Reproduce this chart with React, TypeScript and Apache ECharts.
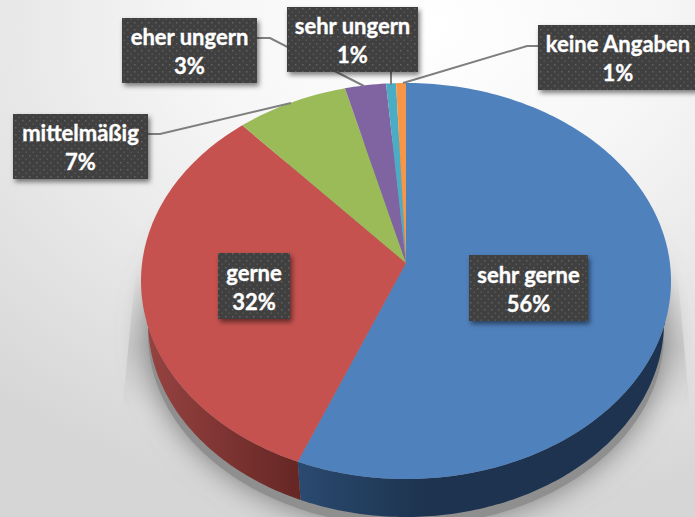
import React, { useEffect, useRef } from "react";
import * as echarts from "echarts";

const categories = ["sehr gerne", "gerne", "mittelmäßig", "eher ungern", "sehr ungern", "keine Angaben"];
const shares = [56.7, 32.7, 6.9, 2.5, 0.6, 0.6];
const percentLabels = ["56%", "32%", "7%", "3%", "1%", "1%"];

const topColors = ["#4f81bd", "#c5524f", "#9bbb59", "#8064a2", "#4bacc6", "#f79646"];
const sideColors: [string, string][] = [
  ["#1d334f", "#2a4a70"],
  ["#964341", "#652624"],
  ["#6f8a3c", "#6f8a3c"],
  ["#5b4775", "#5b4775"],
  ["#327d92", "#327d92"],
  ["#b86d2f", "#b86d2f"],
];

const boxes = [
  { x: 469, y: 255, w: 119, h: 66 },
  { x: 218, y: 253, w: 72, h: 66 },
  { x: 13, y: 114, w: 135, h: 65 },
  { x: 122, y: 18, w: 135, h: 65 },
  { x: 287, y: 7, w: 131, h: 65 },
  { x: 538, y: 25, w: 160, h: 65 },
];
const leaders: number[][][] = [
  [],
  [],
  [[148, 134], [160, 134], [291, 103]],
  [[257, 38], [270, 38], [364, 86]],
  [[391, 72], [391, 85]],
  [[538, 46], [527, 46], [403, 83]],
];

const TOP = { cx: 406, cy: 281, a: 265, b: 198 };
const BOT = { cx: 406, cy: 322, a: 258, b: 195 };
const APEX = [406, 263];
const RAD = Math.PI / 180;

const onEllipse = (e: typeof TOP, deg: number) => [
  e.cx + e.a * Math.sin(deg * RAD),
  e.cy - e.b * Math.cos(deg * RAD),
];
const arc = (e: typeof TOP, from: number, to: number) => {
  const n = Math.max(2, Math.ceil(Math.abs(to - from)));
  const pts: number[][] = [];
  for (let i = 0; i <= n; i++) pts.push(onEllipse(e, from + ((to - from) * i) / n));
  return pts;
};
const total = shares.reduce((s, v) => s + v, 0);
const startAngle = (i: number) => (shares.slice(0, i).reduce((s, v) => s + v, 0) / total) * 360;

const dots =
  "data:image/svg+xml;utf8," +
  encodeURIComponent(
    '<svg xmlns="http://www.w3.org/2000/svg" width="7" height="7"><rect x="1" y="1" width="1.5" height="1.5" fill="#626262"/><rect x="4.5" y="4.5" width="1.5" height="1.5" fill="#565656"/></svg>'
  );

const renderSlice = (params: any, api: any) => {
  const i = params.dataIndex;
  const from = startAngle(i);
  const to = from + (api.value(0) / total) * 360;
  const children: any[] = [];
  const t0 = Math.max(from, 102), t1 = Math.min(to, 258);
  const b0 = Math.max(from, 90), b1 = Math.min(to, 270);
  if (t1 > t0) {
    const pts = [...arc(TOP, t0, t1), ...arc(BOT, b1, b0)];
    children.push({
      type: "polygon",
      shape: { points: pts },
      style: {
        fill: new echarts.graphic.LinearGradient(0, 0, 1, 0, [
          { offset: 0, color: i === 0 ? sideColors[i][1] : sideColors[i][0] },
          { offset: i === 0 ? 0.35 : 1, color: i === 0 ? sideColors[i][0] : sideColors[i][1] },
          { offset: 1, color: i === 0 ? sideColors[i][0] : sideColors[i][1] },
        ]),
      },
    });
  }
  children.push({
    type: "polygon",
    shape: { points: [APEX, ...arc(TOP, from, to)] },
    style: { fill: topColors[i] },
  });
  return { type: "group", children };
};

const renderLeader = (params: any) => {
  const pts = leaders[params.dataIndex];
  if (!pts.length) return { type: "group", children: [] };
  return {
    type: "polyline",
    shape: { points: pts },
    style: { stroke: "#7f7f7f", lineWidth: 2, fill: "none" },
  };
};

const renderLabel = (params: any) => {
  const i = params.dataIndex;
  const b = boxes[i];
  return {
    type: "group",
    children: [
      {
        type: "rect",
        shape: { x: b.x, y: b.y, width: b.w, height: b.h },
        style: {
          fill: "#3f3f3f",
          shadowBlur: 5,
          shadowOffsetX: 2,
          shadowOffsetY: 3,
          shadowColor: "rgba(0,0,0,0.5)",
        },
      },
      {
        type: "rect",
        shape: { x: b.x, y: b.y, width: b.w, height: b.h },
        style: { fill: { image: dots, repeat: "repeat", imageWidth: 7, imageHeight: 7 } },
      },
      {
        type: "text",
        x: b.x + b.w / 2,
        y: b.y + b.h / 2 + 0.5,
        style: {
          text: categories[i] + "\n" + percentLabels[i],
          fill: "#ffffff",
          stroke: "#ffffff",
          lineWidth: 0.35,
          font: 'bold 22px Lato, "Open Sans", sans-serif',
          lineHeight: 29,
          align: "center",
          verticalAlign: "middle",
        },
      },
    ],
  };
};

export default function App() {
  const ref = useRef<HTMLDivElement>(null);
  useEffect(() => {
    const chart = echarts.init(ref.current!, undefined, { renderer: "svg" });
    const rows = shares.map((v) => [v]);
    chart.setOption({
      animation: false,
      graphic: [
        {
          type: "rect",
          z: -10,
          shape: { x: 0, y: 0, width: 695, height: 517 },
          style: {
            fill: new echarts.graphic.RadialGradient(0.62, 0.05, 0.95, [
              { offset: 0, color: "#ffffff" },
              { offset: 0.35, color: "#f6f6f6" },
              { offset: 1, color: "#d6d6d6" },
            ]),
          },
        },
        {
          type: "polygon",
          z: -9,
          shape: { points: [[136, 270], [677, 270], [690, 410], [122, 410]] },
          style: {
            fill: new echarts.graphic.LinearGradient(0, 0, 0, 1, [
              { offset: 0, color: "rgba(170,170,170,0)" },
              { offset: 0.55, color: "rgba(170,170,170,0.4)" },
              { offset: 1, color: "rgba(170,170,170,0)" },
            ]),
          },
        },
        {
          type: "ellipse",
          z: -8,
          shape: { cx: 406, cy: 334, rx: 258, ry: 192 },
          style: { fill: "#8f8f8f", shadowBlur: 30, shadowColor: "#777777" },
        },
      ],
      series: [
        { type: "custom", coordinateSystem: "none", z: 2, data: rows, renderItem: renderSlice, silent: true },
        { type: "custom", coordinateSystem: "none", z: 3, data: rows, renderItem: renderLeader, silent: true },
        { type: "custom", coordinateSystem: "none", z: 4, data: rows, renderItem: renderLabel, silent: true },
      ],
    });
    return () => chart.dispose();
  }, []);
  return <div ref={ref} style={{ position: "absolute", left: 0, top: 0, width: 695, height: 517 }} />;
}
